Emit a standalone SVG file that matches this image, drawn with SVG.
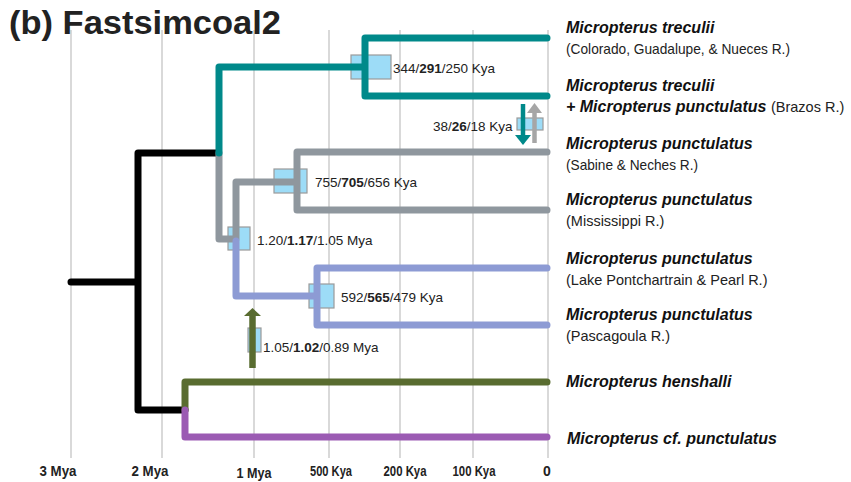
<svg xmlns="http://www.w3.org/2000/svg" width="851" height="482" viewBox="0 0 851 482">
<style>
.grid{stroke:#d9d9d9;stroke-width:2;fill:none}
.br{fill:none;stroke-width:7;stroke-linecap:round;stroke-linejoin:round}
.blk{stroke:#000}
.teal{stroke:#00898a}
.gray{stroke:#8f979e}
.peri{stroke:#8d9bd4}
.grn{stroke:#596c30}
.pur{stroke:#9b5bb3}
.ci{fill:#9ddcf7;stroke:#9a9a9a;stroke-width:1.2}
.sp{font-family:"Liberation Sans",Arial,sans-serif;font-size:16px;font-weight:bold;font-style:italic;fill:#111}
.loc{font-family:"Liberation Sans",Arial,sans-serif;font-size:14.5px;fill:#222;font-weight:normal;font-style:normal}
.nl{font-family:"Liberation Sans",Arial,sans-serif;font-size:13.5px;fill:#222}
.ax{font-family:"Liberation Sans",Arial,sans-serif;font-size:14px;font-weight:bold;fill:#222;text-anchor:middle}
</style>
<rect width="851" height="482" fill="#fff"/>
<g id="axis">
<path class="grid" d="M71,30V458M162,30V458M254,30V458M329,30V458M400,30V458M473,30V458M548,30V458"/>
<text class="ax" x="58" y="476" textLength="37" lengthAdjust="spacingAndGlyphs">3 Mya</text>
<text class="ax" x="150" y="476" textLength="37" lengthAdjust="spacingAndGlyphs">2 Mya</text>
<text class="ax" x="254" y="478" textLength="35" lengthAdjust="spacingAndGlyphs">1 Mya</text>
<text class="ax" x="331" y="476" textLength="42" lengthAdjust="spacingAndGlyphs">500 Kya</text>
<text class="ax" x="405" y="476" textLength="43" lengthAdjust="spacingAndGlyphs">200 Kya</text>
<text class="ax" x="474" y="476" textLength="43" lengthAdjust="spacingAndGlyphs">100 Kya</text>
<text class="ax" x="547" y="476">0</text>
</g>
<g id="title">
<text x="9" y="34" font-family="Liberation Sans, Arial, sans-serif" font-size="34" font-weight="bold" fill="#222" textLength="272" lengthAdjust="spacingAndGlyphs">(b) Fastsimcoal2</text>
</g>
<g id="ci-boxes">
<rect class="ci" x="351" y="55" width="40" height="24"/>
<rect class="ci" x="274" y="169" width="33" height="24"/>
<rect class="ci" x="228" y="227" width="22" height="23"/>
<rect class="ci" x="309" y="284" width="25" height="24"/>
<rect class="ci" x="248" y="328" width="13" height="24"/>
<rect class="ci" x="517" y="118" width="26" height="12"/>
</g>
<g id="connectors">
<path class="br blk" d="M71,282H138M218,153H138V410H185"/>
<path class="br gray" d="M219,153V239H236M236,239V182H297M547,152H297V210H547"/>
<path class="br peri" d="M236,241V296H317M547,268H317V325H547"/>
<path class="br teal" d="M219,153V67H365M547,38H365V96H547"/>
<path class="br grn" d="M185,410V382H547"/>
<path class="br pur" d="M185,410V437H547"/>
</g>
<g id="migration">
<g id="mig-teal-down">
<path d="M523,104V137" stroke="#00898a" stroke-width="4.5" fill="none"/>
<polygon points="515,135 531,135 523,145" fill="#00898a"/>
</g>
<g id="mig-gray-up">
<path d="M534.5,143V111" stroke="#a6a6a6" stroke-width="4.5" fill="none"/>
<polygon points="527,113 542,113 534.5,103" fill="#a6a6a6"/>
</g>
<g id="mig-green-up">
<path d="M252.5,368V314" stroke="#596c30" stroke-width="6.5" fill="none"/>
<polygon points="244,316 261,316 252.5,308" fill="#596c30"/>
</g>
</g>
<g id="node-labels">
<g id="t-291"><text class="nl" x="393" y="73">344/<tspan font-weight="bold">291</tspan>/250 Kya</text></g>
<g id="t-26"><text class="nl" x="433" y="131">38/<tspan font-weight="bold">26</tspan>/18 Kya</text></g>
<g id="t-705"><text class="nl" x="315" y="187">755/<tspan font-weight="bold">705</tspan>/656 Kya</text></g>
<g id="t-117"><text class="nl" x="257" y="245">1.20/<tspan font-weight="bold">1.17</tspan>/1.05 Mya</text></g>
<g id="t-565"><text class="nl" x="341" y="302">592/<tspan font-weight="bold">565</tspan>/479 Kya</text></g>
<g id="t-102"><text class="nl" x="263" y="352">1.05/<tspan font-weight="bold">1.02</tspan>/0.89 Mya</text></g>
</g>
<g id="leaf-treculii"><text class="sp" x="566" y="33">Micropterus treculii</text><text class="loc" x="566" y="54" textLength="224" lengthAdjust="spacingAndGlyphs">(Colorado, Guadalupe, &amp; Nueces R.)</text></g>
<g id="leaf-treculii-brazos"><text class="sp" x="566" y="91">Micropterus treculii</text><text class="sp" x="566" y="112">+ Micropterus punctulatus <tspan class="loc">(Brazos R.)</tspan></text></g>
<g id="leaf-sabine"><text class="sp" x="566" y="149">Micropterus punctulatus</text><text class="loc" x="566" y="170" textLength="132" lengthAdjust="spacingAndGlyphs">(Sabine &amp; Neches R.)</text></g>
<g id="leaf-mississippi"><text class="sp" x="566" y="205">Micropterus punctulatus</text><text class="loc" x="566" y="226">(Mississippi R.)</text></g>
<g id="leaf-pontchartrain"><text class="sp" x="566" y="264">Micropterus punctulatus</text><text class="loc" x="566" y="285">(Lake Pontchartrain &amp; Pearl R.)</text></g>
<g id="leaf-pascagoula"><text class="sp" x="566" y="320">Micropterus punctulatus</text><text class="loc" x="566" y="341">(Pascagoula R.)</text></g>
<g id="leaf-henshalli"><text class="sp" x="566" y="387">Micropterus henshalli</text></g>
<g id="leaf-cf"><text class="sp" x="567" y="444">Micropterus cf. punctulatus</text></g>
</svg>
